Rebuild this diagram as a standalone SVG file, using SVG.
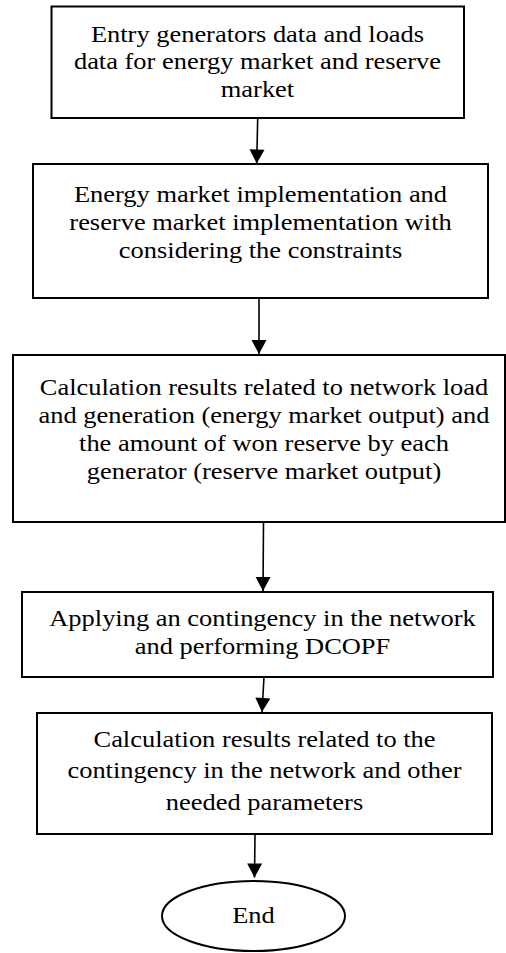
<svg xmlns="http://www.w3.org/2000/svg" width="506" height="953" viewBox="0 0 506 953">
<defs>
<marker id="ah" markerUnits="userSpaceOnUse" markerWidth="16" markerHeight="16" viewBox="0 0 16 16" refX="15" refY="8" orient="auto">
<path d="M1,0.5 L15,8 L1,15.5 Z" fill="#000"/>
</marker>
<style>
.box{fill:#fff;stroke:#000;stroke-width:2}
.t{font-family:"Liberation Serif","Times New Roman",serif;font-size:23px;fill:#000;text-anchor:middle}
.c{fill:none;stroke:#000;stroke-width:1.6}
</style>
</defs>
<rect width="506" height="953" fill="#fff"/>
<g id="connectors">
<line class="c" x1="257.7" y1="118" x2="256.7" y2="163.5" marker-end="url(#ah)"/>
<line class="c" x1="259" y1="298" x2="259" y2="354" marker-end="url(#ah)"/>
<line class="c" x1="263.5" y1="522" x2="263" y2="591" marker-end="url(#ah)"/>
<line class="c" x1="264" y1="677" x2="262" y2="712" marker-end="url(#ah)"/>
<line class="c" x1="255" y1="834" x2="254.5" y2="877.5" marker-end="url(#ah)"/>
</g>
<g id="n1">
<rect class="box" x="51.5" y="6.5" width="412.5" height="111.5"/>
<g transform="translate(257.5 0) scale(1.15 1)">
<text class="t" x="0" y="42">Entry generators data and loads</text>
<text class="t" x="0" y="69.5">data for energy market and reserve</text>
<text class="t" x="0" y="97">market</text>
</g>
</g>
<g id="n2">
<rect class="box" x="33" y="164" width="455" height="134"/>
<g transform="translate(260.5 0) scale(1.15 1)">
<text class="t" x="0" y="202">Energy market implementation and</text>
<text class="t" x="0" y="230">reserve market implementation with</text>
<text class="t" x="0" y="258">considering the constraints</text>
</g>
</g>
<g id="n3">
<rect class="box" x="13" y="355" width="492" height="167"/>
<g transform="translate(264 0) scale(1.15 1)">
<text class="t" x="0" y="395">Calculation results related to network load</text>
<text class="t" x="0" y="423">and generation (energy market output) and</text>
<text class="t" x="0" y="451">the amount of won reserve by each</text>
<text class="t" x="0" y="479">generator (reserve market output)</text>
</g>
</g>
<g id="n4">
<rect class="box" x="22" y="592" width="471" height="85"/>
<g transform="translate(262.5 0) scale(1.15 1)">
<text class="t" x="0" y="626">Applying an contingency in the network</text>
<text class="t" x="0" y="654">and performing DCOPF</text>
</g>
</g>
<g id="n5">
<rect class="box" x="37" y="713" width="455" height="121"/>
<g transform="translate(264.5 0) scale(1.15 1)">
<text class="t" x="0" y="747">Calculation results related to the</text>
<text class="t" x="0" y="778">contingency in the network and other</text>
<text class="t" x="0" y="810">needed parameters</text>
</g>
</g>
<g id="end">
<ellipse class="box" cx="253.5" cy="916" rx="91.5" ry="35"/>
<g transform="translate(253.5 0) scale(1.15 1)">
<text class="t" x="0" y="923">End</text>
</g>
</g>
</svg>
